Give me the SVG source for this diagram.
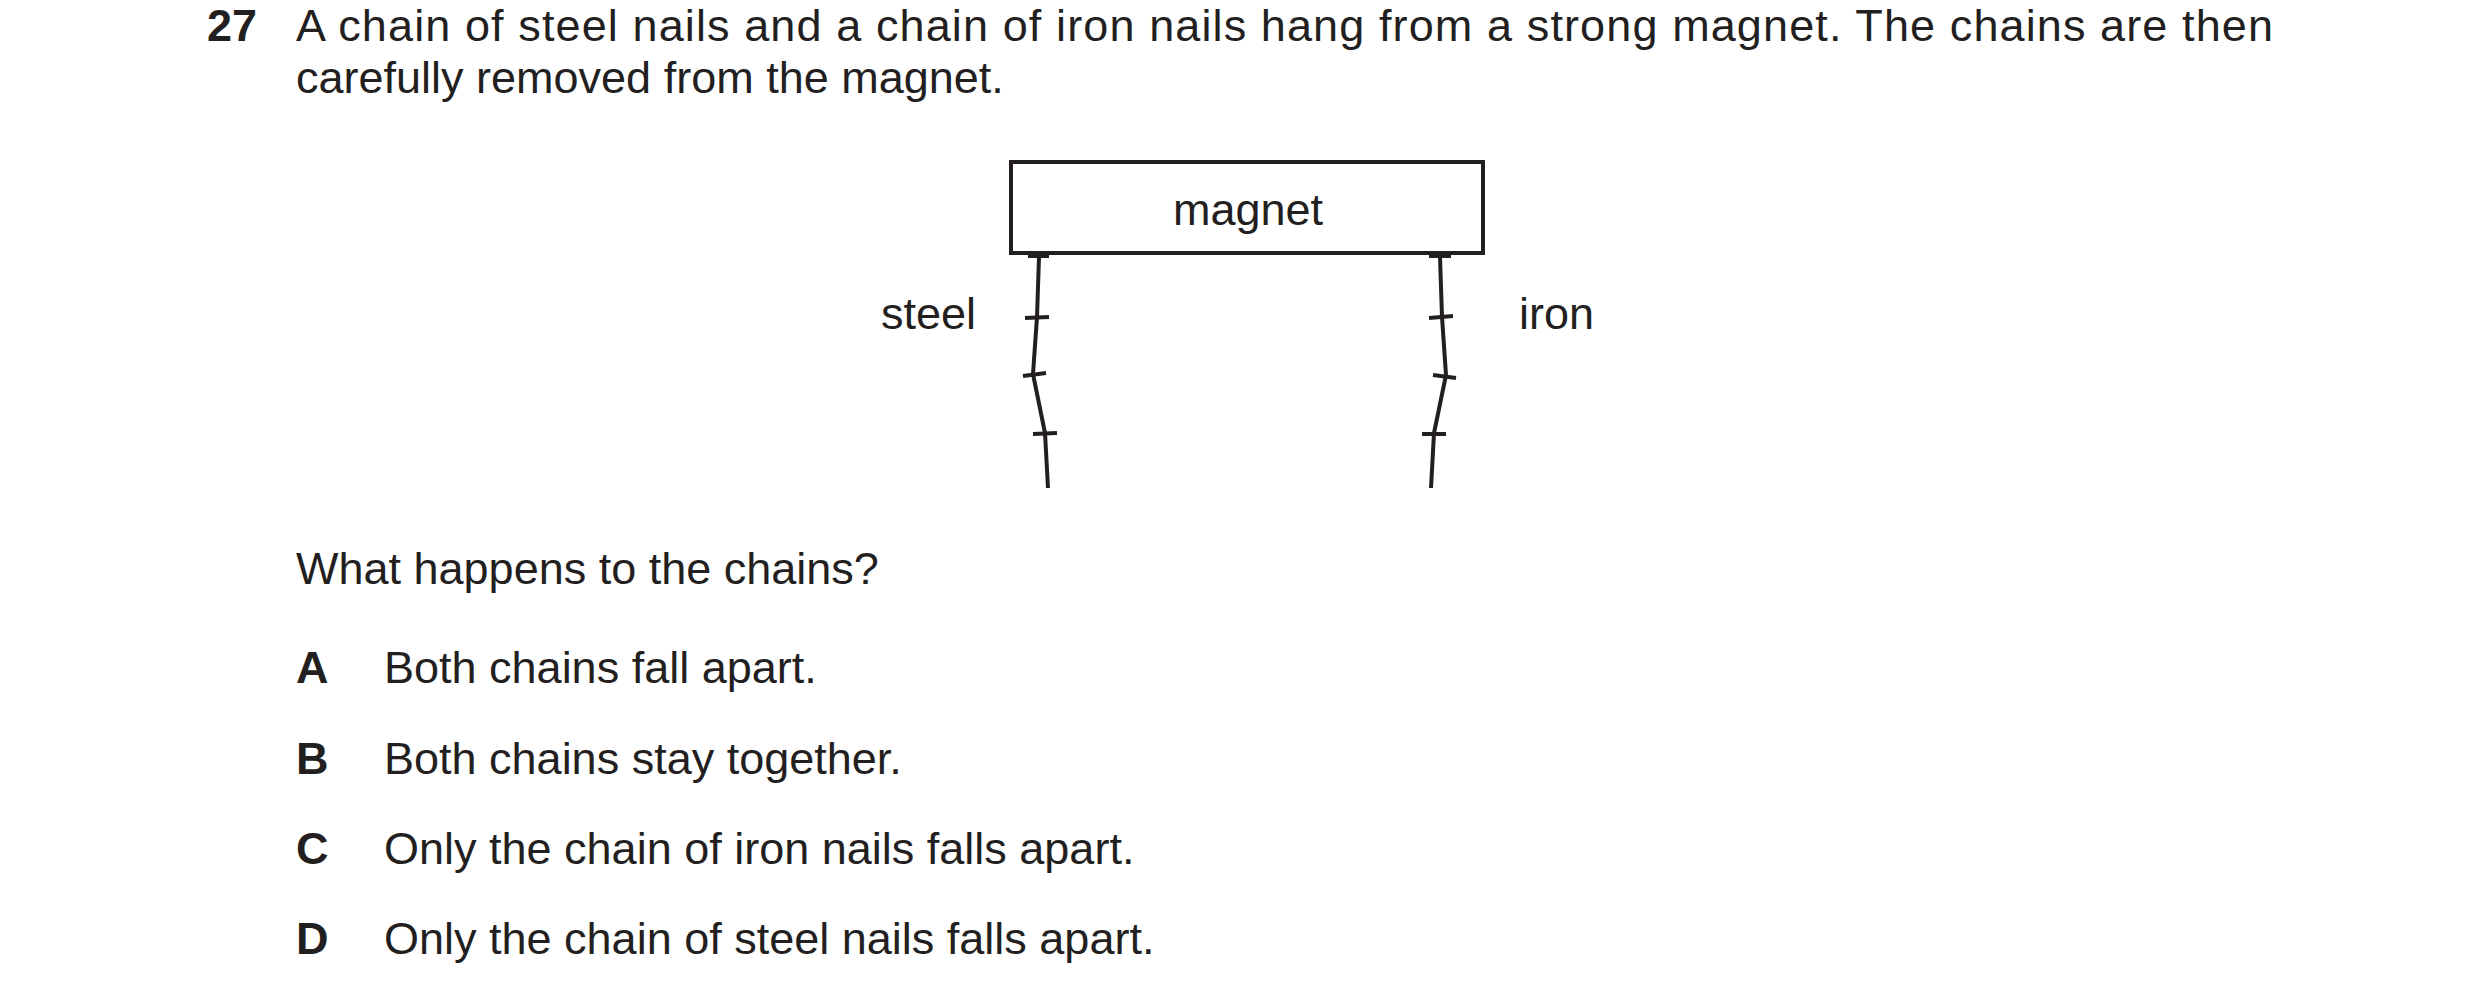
<svg xmlns="http://www.w3.org/2000/svg" width="2480" height="1004" viewBox="0 0 2480 1004">
<style>
text{font-family:"Liberation Sans",Arial,sans-serif;font-size:45px;fill:#231f20}
.b{font-weight:bold}
.l{fill:none;stroke:#231f20;stroke-width:4}
</style>
<rect width="2480" height="1004" fill="#fff"/>
<text class="b" x="207" y="41">27</text>
<text x="296" y="41" textLength="1977" lengthAdjust="spacing">A chain of steel nails and a chain of iron nails hang from a strong magnet. The chains are then</text>
<text x="296" y="93">carefully removed from the magnet.</text>
<g id="magnet">
<rect class="l" x="1011" y="162" width="472" height="91" stroke-width="4"/>
<text x="1248" y="225" text-anchor="middle">magnet</text>
</g>
<g id="steel">
<polyline class="l" points="1039,257 1037,317 1033,374 1045,433 1048,488"/>
<path class="l" d="M1028,256H1049M1025,318L1049,317M1023,376L1046,373M1033,434L1057,433" stroke-width="5"/>
<text x="881" y="329">steel</text>
</g>
<g id="iron">
<polyline class="l" points="1440,257 1442,317 1446,375 1434,433 1431,488"/>
<path class="l" d="M1429,256H1451M1429,318L1453,316M1433,375L1456,378M1422,434L1446,434" stroke-width="5"/>
<text x="1519" y="329">iron</text>
</g>
<g id="connectors"/>
<text x="296" y="584">What happens to the chains?</text>
<text class="b" x="296" y="683">A</text><text x="384" y="683">Both chains fall apart.</text>
<text class="b" x="296" y="774">B</text><text x="384" y="774">Both chains stay together.</text>
<text class="b" x="296" y="864">C</text><text x="384" y="864">Only the chain of iron nails falls apart.</text>
<text class="b" x="296" y="954">D</text><text x="384" y="954">Only the chain of steel nails falls apart.</text>
</svg>
